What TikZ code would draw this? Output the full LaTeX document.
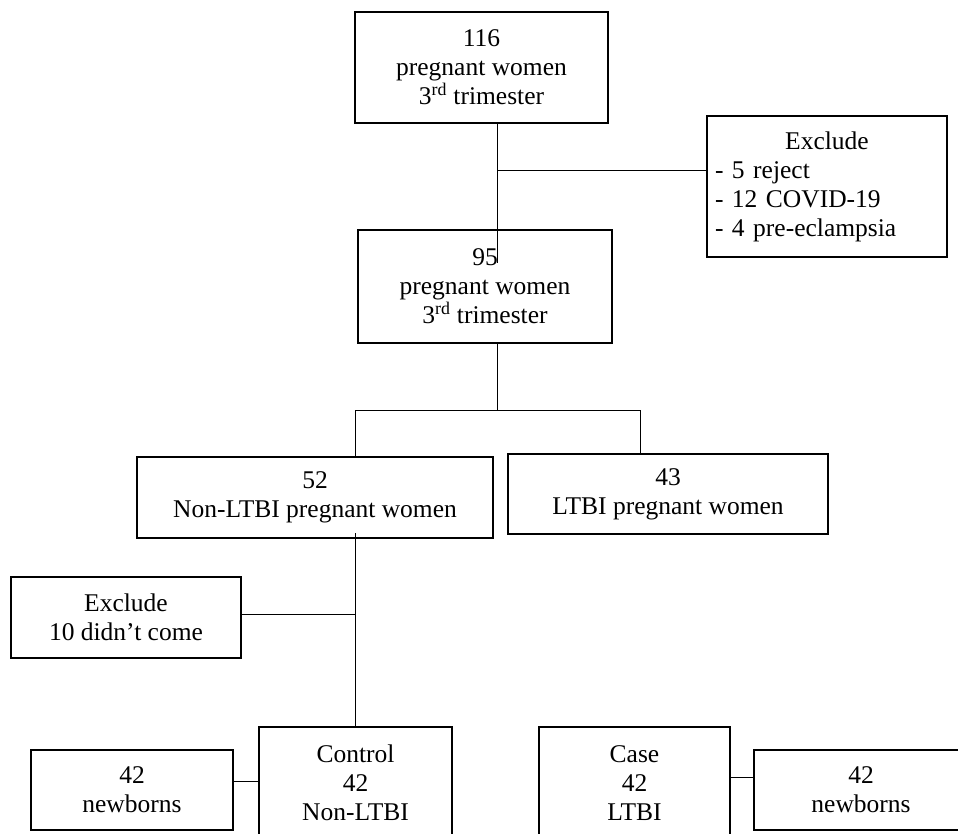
\documentclass[tikz,border=0pt]{standalone}
\usepackage{fontspec}
\setmainfont{Liberation Serif}
\begin{document}
\begin{tikzpicture}[x=1pt,y=-1pt,
  boxnode/.style={draw, line width=1.5pt, inner sep=0pt, align=center,
    font=\fontsize{25.5}{29}\selectfont},
  link/.style={line width=1pt}]
\useasboundingbox (0,0) rectangle (958,833);
% boxes
\node[boxnode, minimum width=253, minimum height=111] (b116) at (481.5,67.5)
  {116\\pregnant women\\3\textsuperscript{rd} trimester};
\node[boxnode, minimum width=240, minimum height=141, text width=224pt, align=left] (ex1) at (827,186.5)
  {\makebox[224pt]{Exclude}\\- 5 reject\\- 12 COVID-19\\- 4 pre-eclampsia};
\node[boxnode, minimum width=254, minimum height=113] (b95) at (485,286.5)
  {95\\pregnant women\\3\textsuperscript{rd} trimester};
\node[boxnode, minimum width=356, minimum height=81] (b52) at (315,497.5)
  {52\\Non-LTBI pregnant women};
\node[boxnode, minimum width=320, minimum height=80] (b43) at (668,494)
  {43\\LTBI pregnant women};
\node[boxnode, minimum width=230, minimum height=81] (ex2) at (126,617.5)
  {Exclude\\10 didn’t come};
\node[boxnode, minimum width=193, minimum height=112] (ctrl) at (355.5,783)
  {Control\\42\\Non-LTBI};
\node[boxnode, minimum width=202, minimum height=80] (nbl) at (132,790)
  {42\\newborns};
\node[boxnode, minimum width=191, minimum height=112] (case) at (634.5,783)
  {Case\\42\\LTBI};
\node[boxnode, minimum width=214, minimum height=80] (nbr) at (861,790)
  {42\\newborns};
% junction points
\coordinate (j1) at (497,170);
\coordinate (e1) at (497,263);
\coordinate (j2) at (497,410);
\coordinate (jl) at (355,410);
\coordinate (jr) at (640,410);
\coordinate (s3) at (355,533);
\coordinate (j3) at (355,614);
\coordinate (c1) at (246,781);
\coordinate (c2) at (742,777);
% connectors
\draw[link] (b116.south -| j1) -- (e1);
\draw[link] (j1) -- (ex1.west |- j1);
\draw[link] (b95.south -| j2) -- (j2);
\draw[link] (b52.north -| jl) -- (jl) -- (jr) -- (b43.north -| jr);
\draw[link] (s3) -- (ctrl.north -| s3);
\draw[link] (ex2.east |- j3) -- (j3);
\draw[link] (nbl.east |- c1) -- (ctrl.west |- c1);
\draw[link] (case.east |- c2) -- (nbr.west |- c2);
\end{tikzpicture}
\end{document}
